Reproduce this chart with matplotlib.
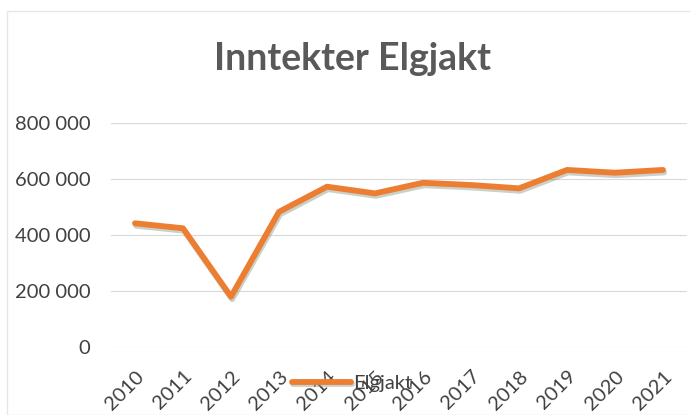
import matplotlib
matplotlib.use("Agg")
import matplotlib.pyplot as plt
import matplotlib.patheffects as pe
from matplotlib.ticker import FuncFormatter

# data
years = ["2010", "2011", "2012", "2013", "2014", "2015",
         "2016", "2017", "2018", "2019", "2020", "2021"]
inntekter = [442000, 424000, 179000, 483000, 573000, 549000,
             587000, 579000, 567000, 633000, 623000, 633000]
yticks = [0, 200000, 400000, 600000, 800000]

plt.rcParams['font.family'] = ['Lato', 'DejaVu Sans']

fig = plt.figure(figsize=(6.9, 4.15), dpi=100)
fig.patch.set_facecolor('white')
ax = fig.add_axes([111 / 690, 1 - 346.7 / 415, 576 / 690, 223.4 / 415])

# faint chart border from the scan
fig.add_artist(plt.Rectangle((7 / 690, 0), 1, 1 - 11 / 415, transform=fig.transFigure,
                             fill=False, edgecolor='#e6e6e6', linewidth=1))

x = list(range(len(years)))
ax.plot(x, inntekter, color='#ED7D31', linewidth=4.2, solid_capstyle='round',
        solid_joinstyle='round', label='Elgjakt',
        path_effects=[pe.SimpleLineShadow(offset=(0.8, -1.8), shadow_color='#8a9a8a', alpha=0.45),
                      pe.Normal()])

ax.set_xlim(-0.5, len(years) - 0.5)
ax.set_ylim(0, 800000)
ax.set_yticks(yticks)
ax.yaxis.set_major_formatter(FuncFormatter(lambda v, p: f"{int(v):,}".replace(",", " ")))
ax.set_xticks(x)
ax.set_xticklabels(years, rotation=45, ha='right', rotation_mode='anchor')
ax.tick_params(axis='x', length=0, pad=15, labelsize=14.5, labelcolor='#404040')
ax.tick_params(axis='y', length=0, pad=15, labelsize=14.5, labelcolor='#404040')
ax.grid(axis='y', color='#d9d9d9', linewidth=0.8)
ax.set_axisbelow(True)
for s in ax.spines.values():
    s.set_visible(False)

fig.text(352 / 690, 1 - 59 / 415, "Inntekter Elgjakt", ha='center', va='center',
         fontsize=27, fontweight='bold', color='#595959')

leg = fig.legend(loc='center', bbox_to_anchor=(352 / 690, 1 - 383 / 415), frameon=False,
                 fontsize=14.5, handlelength=2.9, handletextpad=0.1)
for t in leg.get_texts():
    t.set_color('#404040')

fig.savefig("out.png", dpi=100)
